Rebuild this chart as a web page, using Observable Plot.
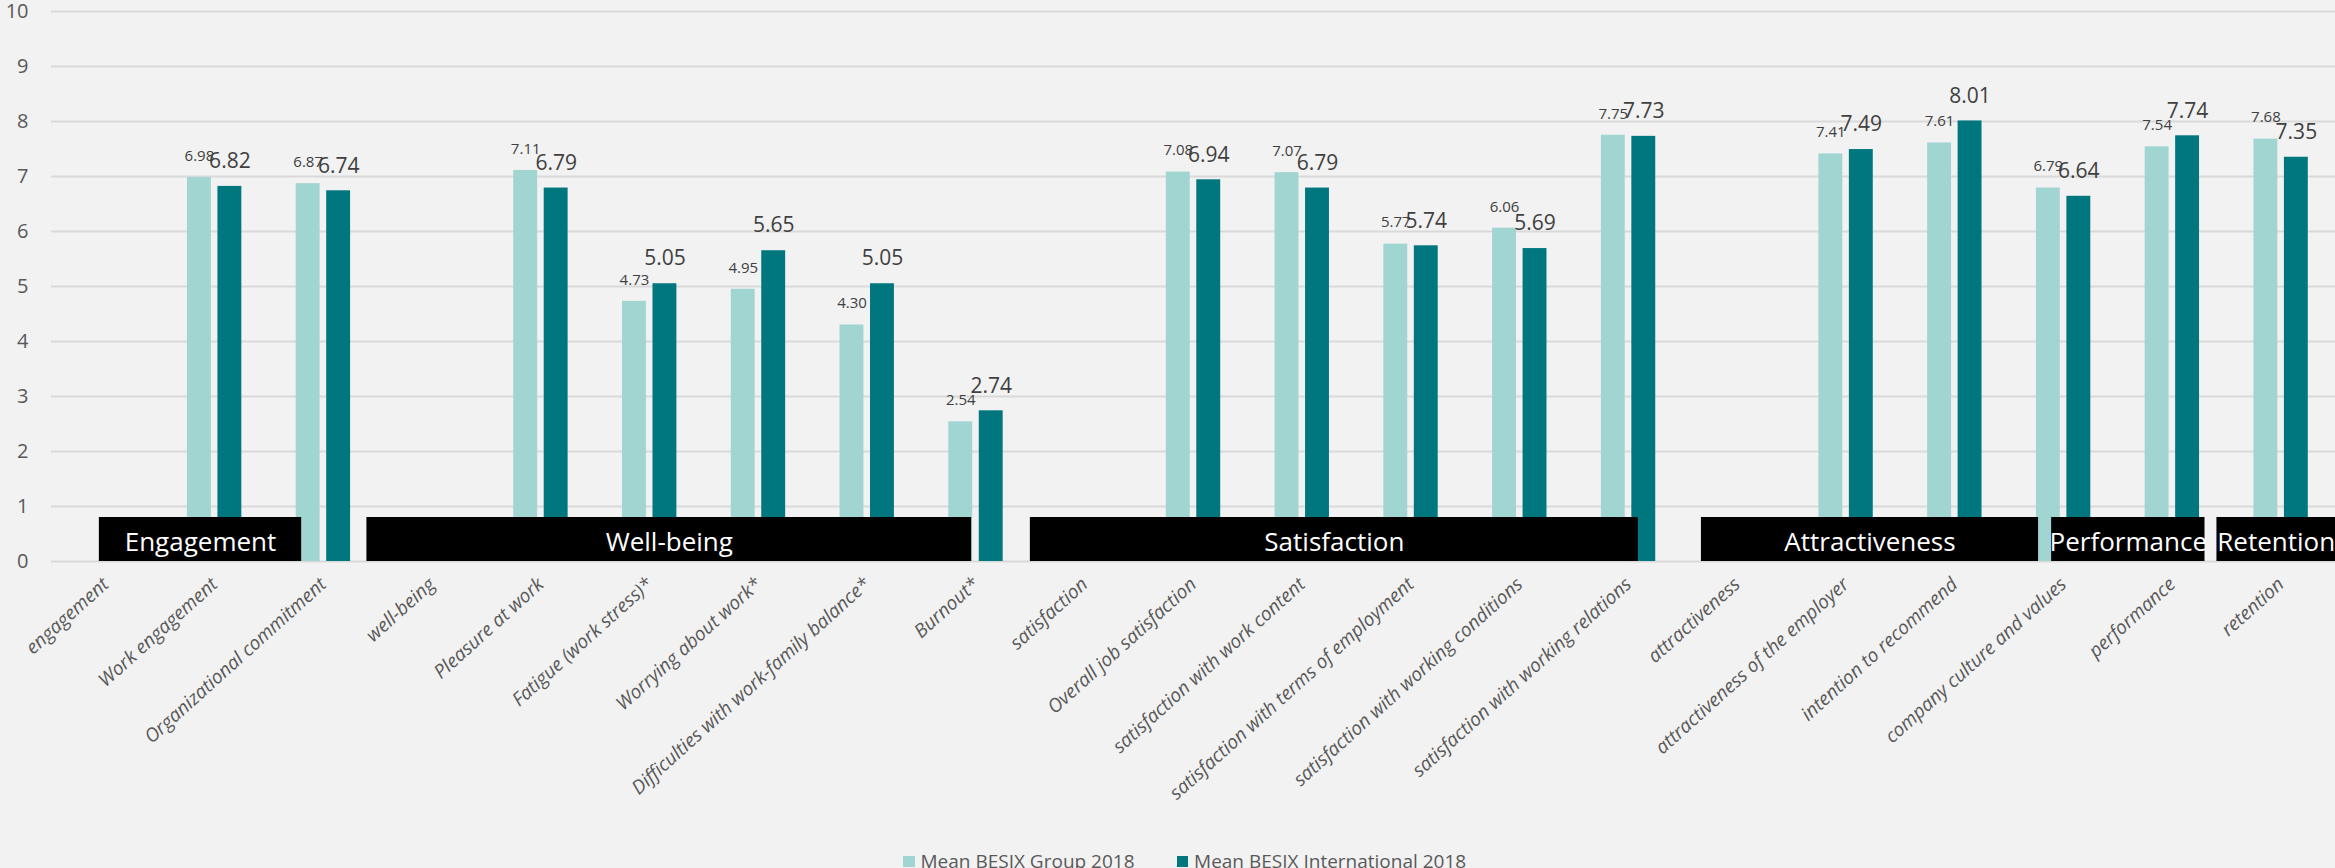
<!DOCTYPE html>
<html>
<head>
<meta charset="utf-8">
<script src="https://cdn.jsdelivr.net/npm/d3@7"></script>
<script src="https://cdn.jsdelivr.net/npm/@observablehq/plot@0.6"></script>
<style>
  html, body { margin: 0; padding: 0; background: #F2F2F2; overflow: hidden; width: 2335px; height: 868px; }
  #chart { position: relative; width: 2335px; height: 868px; font-family: "Open Sans", sans-serif; }
  #chart svg { position: absolute; left: 0; top: 0; }
  #legend { position: absolute; left: 903px; top: 849px; display: flex; gap: 42px; font-size: 19px; line-height: 24px; color: #595959; white-space: nowrap; }
  #legend .item { display: flex; align-items: flex-start; }
  #legend .swatch { width: 11.5px; height: 11.5px; margin-top: 6.6px; margin-right: 6px; }
</style>
</head>
<body>
<div id="chart"></div>
<script>
// Survey dimensions along the x axis (index order matters)
const categories = [
  "engagement", "Work engagement", "Organizational commitment",
  "well-being", "Pleasure at work", "Fatigue (work stress)*", "Worrying about work*",
  "Difficulties with work-family balance*", "Burnout*",
  "satisfaction", "Overall job satisfaction", "satisfaction with work content",
  "satisfaction with terms of employment", "satisfaction with working conditions",
  "satisfaction with working relations",
  "attractiveness", "attractiveness of the employer", "intention to recommend",
  "company culture and values", "performance", "retention"
];

// Mean scores (0–10); null where a heading row has no score
const groupValues = [
  null, 6.98, 6.87,
  null, 7.11, 4.73, 4.95, 4.30, 2.54,
  null, 7.08, 7.07, 5.77, 6.06, 7.75,
  null, 7.41, 7.61, 6.79, 7.54, 7.68
];
const internationalValues = [
  null, 6.82, 6.74,
  null, 6.79, 5.05, 5.65, 5.05, 2.74,
  null, 6.94, 6.79, 5.74, 5.69, 7.73,
  null, 7.49, 8.01, 6.64, 7.74, 7.35
];

const seriesNames = ["Mean BESIX Group 2018", "Mean BESIX International 2018"];
const seriesColors = ["#A0D5D1", "#00767F"];
const yTicks = [0, 1, 2, 3, 4, 5, 6, 7, 8, 9, 10];

// Theme banners, spanning category index ranges
const groupNames = ["Engagement", "Well-being", "Satisfaction", "Attractiveness", "Performance", "Retention"];
const groupStart = [-0.06, 2.4, 8.5, 14.67, 17.89, 19.41];
const groupEnd = [1.8, 7.96, 14.09, 17.77, 19.3, 20.5];

// Long-form rows for the grouped bars
const rows = [];
categories.forEach((c, i) => {
  if (groupValues[i] != null) rows.push({category: c, series: seriesNames[0], value: groupValues[i]});
  if (internationalValues[i] != null) rows.push({category: c, series: seriesNames[1], value: internationalValues[i]});
});
const groupRows = rows.filter(d => d.series === seriesNames[0]);
const intlRows = rows.filter(d => d.series === seriesNames[1]);

const W = 2335, H = 846;
const frame = {width: W, height: H, marginLeft: 51, marginRight: 0, marginTop: 11, marginBottom: 285};
const font = "'Open Sans', sans-serif";
const idx = categories.map((_, i) => i);

// Layer 1: background, gridlines and axes
const base = Plot.plot({
  ...frame,
  style: {background: "#F2F2F2", fontFamily: font},
  x: {domain: [-0.5, categories.length - 0.5]},
  y: {domain: [0, 10]},
  marks: [
    Plot.ruleY(yTicks, {stroke: "#D9D9D9", strokeWidth: 2}),
    Plot.axisY({ticks: yTicks, tickSize: 0, tickPadding: 23, fontSize: 20, fill: "#595959", label: null}),
    Plot.axisX({ticks: idx, tickFormat: i => categories[i], tickRotate: -42, tickSize: 0, tickPadding: 20,
      fontSize: 19, fontStyle: "italic", fill: "#595959", label: null})
  ]
});

// Layer 2: grouped bars with value labels
const bars = Plot.plot({
  ...frame,
  style: {background: "transparent", fontFamily: font},
  facet: {marginTop: 0, marginRight: 0, marginBottom: 0, marginLeft: 0},
  fx: {domain: categories, paddingInner: 0.5, paddingOuter: 0.25, round: false, axis: null, label: null},
  x: {domain: seriesNames, paddingInner: 0.216, paddingOuter: 0, round: false, axis: null},
  y: {domain: [0, 10], axis: null},
  color: {domain: seriesNames, range: seriesColors},
  marks: [
    Plot.barY(rows, {fx: "category", x: "series", y: "value", fill: "series"}),
    Plot.text(groupRows, {fx: "category", x: "series", y: "value", text: d => d.value.toFixed(2),
      dy: -21.5, fontSize: 15, fill: "#404040"}),
    Plot.text(intlRows, {fx: "category", x: "series", y: "value", text: d => d.value.toFixed(2),
      dy: -25, fontSize: 21, fill: "#404040"})
  ]
});

// Layer 3: black theme banners over the bar bases
const gi = groupNames.map((_, i) => i);
const banners = Plot.plot({
  ...frame,
  style: {background: "transparent", fontFamily: font},
  x: {domain: [-0.5, categories.length - 0.5], axis: null},
  y: {domain: [0, 10], axis: null},
  marks: [
    Plot.rect(gi, {x1: i => groupStart[i], x2: i => groupEnd[i], y1: 0, y2: 0.8, fill: "black"}),
    Plot.text(gi, {x: i => (groupStart[i] + groupEnd[i]) / 2, y: 0.4, text: i => groupNames[i],
      fill: "white", fontSize: 26, dy: 3})
  ]
});

const chart = document.getElementById("chart");
chart.append(base, bars, banners);

// Legend below the plot
const legend = document.createElement("div");
legend.id = "legend";
seriesNames.forEach((name, i) => {
  const item = document.createElement("div");
  item.className = "item";
  const sw = document.createElement("span");
  sw.className = "swatch";
  sw.style.background = seriesColors[i];
  const label = document.createElement("span");
  label.textContent = name;
  item.append(sw, label);
  legend.append(item);
});
chart.append(legend);
</script>
</body>
</html>
